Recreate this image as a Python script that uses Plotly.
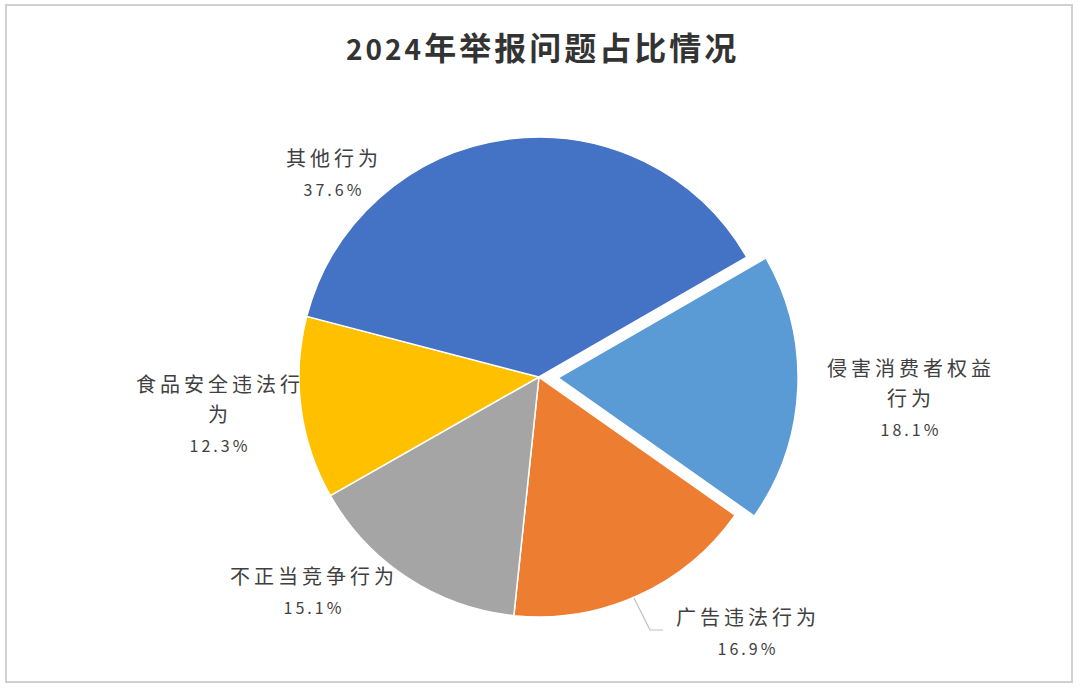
import plotly.graph_objects as go

# ---- data ----
categories = ["侵害消费者权益行为", "广告违法行为", "不正当竞争行为", "食品安全违法行为", "其他行为"]
label_lines = [["侵害消费者权益", "行为"], ["广告违法行为"], ["不正当竞争行为"], ["食品安全违法行", "为"], ["其他行为"]]
values = [18.1, 16.9, 15.1, 12.3, 37.6]
title_text = "2024年举报问题占比情况"

# ---- styles / layout ----
colors = ["#5B9BD5", "#ED7D31", "#A5A5A5", "#FFC000", "#4472C4"]
pulls = [0.08, 0, 0, 0, 0]
W, H = 1080, 688
# label block centres in pixels (x, y)
label_pos = [(911, 397), (748, 631), (314, 590), (220, 413), (334, 172)]
TXT = "#404040"

fig = go.Figure(go.Pie(
    labels=categories,
    values=values,
    sort=False,
    direction="clockwise",
    rotation=60,
    pull=pulls,
    marker=dict(colors=colors, line=dict(color="white", width=1.5)),
    textinfo="none",
    hoverinfo="label+percent",
    showlegend=False,
    domain=dict(x=[0.1, 0.898], y=[0.0753, 0.8287]),
))

total = sum(values)
annotations = []
for lines, v, (px, py) in zip(label_lines, values, label_pos):
    pct = v / total * 100
    parts = [f'<span style="font-size:20px;letter-spacing:4px">{ln}</span>' for ln in lines]
    parts.append(f'<span style="font-size:16px;letter-spacing:3px">{pct:.1f}%</span>')
    annotations.append(dict(
        text="<br>".join(parts), x=px / W, y=1 - py / H, xref="paper", yref="paper",
        xanchor="center", yanchor="middle", align="center", showarrow=False,
        font=dict(family="Noto Sans CJK SC", size=23, color=TXT),
    ))

title_html = "".join(
    f'<span style="font-size:28px;letter-spacing:3px">{c}</span>' if c.isdigit()
    else f'<span style="font-size:32px;letter-spacing:3px">{c}</span>'
    for c in title_text
)
annotations.append(dict(
    text=f"<b>{title_html}</b>", x=542 / W, y=1 - 46 / H, xref="paper", yref="paper",
    xanchor="center", yanchor="middle", showarrow=False,
    font=dict(family="Noto Sans CJK SC", size=30, color="#333333"),
))

lx = lambda p: p / W
ly = lambda p: 1 - p / H
fig.update_layout(
    width=W, height=H,
    margin=dict(l=0, r=0, t=0, b=0, autoexpand=False),
    paper_bgcolor="white",
    annotations=annotations,
    shapes=[
        dict(type="rect", xref="paper", yref="paper", x0=lx(6), x1=lx(1072), y0=ly(682), y1=ly(5),
             line=dict(color="#D0D0D0", width=2)),
        dict(type="path", xref="paper", yref="paper",
             path=f"M {lx(634)},{ly(598)} L {lx(650)},{ly(630)} L {lx(663)},{ly(630)}",
             line=dict(color="#BFBFBF", width=1.2)),
    ],
)

fig.write_html("out.html", config={"displayModeBar": False},
               post_script="document.body.style.margin='0';")
